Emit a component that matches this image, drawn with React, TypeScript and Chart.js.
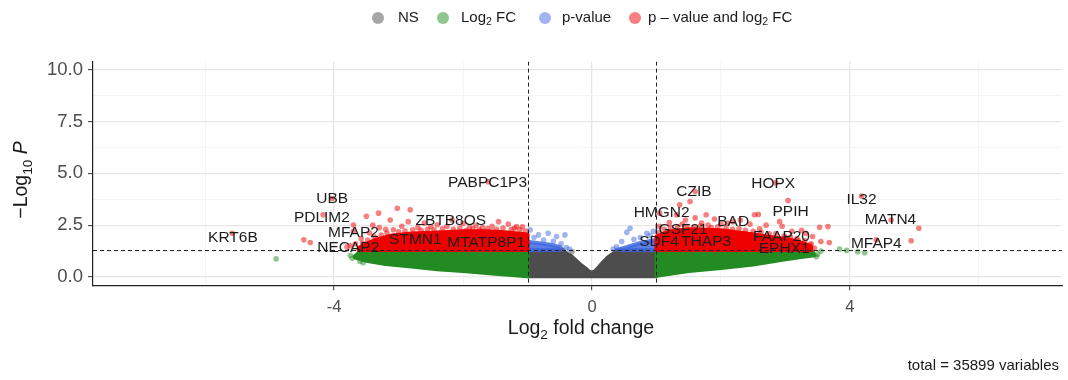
import React, { useEffect, useRef } from 'react';
import { Chart, registerables } from 'chart.js';

Chart.register(...registerables);

const FONT = '"Liberation Sans", Arial, Helvetica, sans-serif';

// Axis ranges: log2 fold change (x) and -log10 p (y)
const X_MIN = -7.74;
const X_MAX = 7.29;
const Y_MIN = -0.4;
const Y_MAX = 10.4;
const FC_CUTOFF = 1;
const P_CUTOFF = 1.301; // -log10(0.05)
const TOTAL_VARIABLES = 35899;

type Pt = [number, number];

// Outlines of the dense point clouds (each closed shape listed around its edge)
const nsCloud: Pt[] = [
  [-1.0, 1.3], [-0.7, 1.3], [-0.5, 1.28], [-0.4, 1.15], [-0.32, 1.0], [-0.25, 0.8],
  [-0.18, 0.6], [-0.1, 0.4], [-0.04, 0.25], [0.0, 0.2], [0.05, 0.28], [0.1, 0.45],
  [0.17, 0.7], [0.25, 0.95], [0.33, 1.12], [0.42, 1.28], [0.6, 1.3], [1.0, 1.3],
  [1.0, 0.03], [-1.0, 0.03],
];
const fcCloudLeft: Pt[] = [
  [-3.68, 1.0], [-3.6, 1.2], [-3.45, 1.3], [-1.0, 1.3], [-1.0, 0.03], [-1.5, 0.15],
  [-2.0, 0.28], [-2.4, 0.37], [-2.8, 0.5], [-3.2, 0.62], [-3.5, 0.78], [-3.68, 0.95],
];
const fcCloudRight: Pt[] = [
  [1.0, 1.3], [3.3, 1.3], [3.42, 1.22], [3.45, 1.05], [3.3, 0.98], [3.0, 0.85],
  [2.5, 0.6], [2.0, 0.43], [1.5, 0.28], [1.0, 0.05],
];
const pCloudLeft: Pt[] = [
  [-1.0, 1.3], [-0.45, 1.3], [-0.5, 1.45], [-0.65, 1.55], [-0.8, 1.62], [-1.0, 1.7],
];
const pCloudRight: Pt[] = [
  [0.38, 1.3], [1.0, 1.3], [1.0, 1.8], [0.85, 1.7], [0.7, 1.6], [0.55, 1.45],
];
const bothCloudLeft: Pt[] = [
  [-3.62, 1.3], [-1.0, 1.3], [-1.0, 2.05], [-1.3, 2.15], [-1.6, 2.2], [-2.0, 2.2],
  [-2.4, 2.15], [-2.8, 2.1], [-3.1, 2.0], [-3.35, 1.8], [-3.5, 1.6], [-3.62, 1.4],
];
const bothCloudRight: Pt[] = [
  [1.0, 1.3], [3.4, 1.3], [3.4, 1.45], [3.3, 1.6], [3.1, 1.78], [2.8, 1.92],
  [2.4, 2.1], [2.0, 2.25], [1.5, 2.3], [1.2, 2.2], [1.0, 1.95],
];

// Individual variables outside the dense clouds
const nsPoints: Pt[] = [[-0.31, 1.22], [0.38, 1.2], [-0.45, 1.25]];
const fcPoints: Pt[] = [
  [-4.9, 0.87], [3.84, 1.35], [4.12, 1.22], [4.23, 1.17], [3.95, 1.28], [-3.75, 1.05],
  [-3.72, 0.9], [3.5, 1.1], [3.55, 1.25], [-3.6, 0.75], [3.48, 0.98], [-3.55, 0.68],
];
const pPoints: Pt[] = [
  [-0.96, 2.27], [-0.83, 2.03], [-0.68, 2.11], [-0.55, 1.95], [-0.42, 2.03], [-0.9, 1.9],
  [-0.75, 1.78], [-0.6, 1.72], [-0.48, 1.6], [-0.4, 1.42], [-0.35, 1.35],
  [0.59, 2.35], [0.54, 2.15], [0.46, 1.71], [0.85, 2.11], [0.9, 2.0], [0.75, 1.9],
  [0.38, 1.46], [0.65, 1.82], [0.95, 2.2], [0.33, 1.35],
];
const bothPointsLeft: Pt[] = [
  [-5.58, 2.11], [-4.03, 3.79], [-4.17, 3.0], [-3.7, 2.2], [-3.8, 1.45], [-4.47, 1.79],
  [-4.37, 1.66], [-3.5, 2.93], [-3.31, 3.08], [-3.02, 3.32], [-2.82, 3.24], [-3.13, 2.75],
  [-2.85, 2.67], [-3.7, 2.51], [-1.61, 4.6], [-2.17, 2.75], [-1.45, 2.67], [-1.17, 2.43],
  [-2.6, 2.6], [-2.4, 2.52], [-2.0, 2.58], [-1.8, 2.48], [-1.3, 2.55], [-1.08, 2.42],
  [-2.95, 2.45], [-2.5, 2.42], [-1.9, 2.4], [-1.55, 2.45], [-3.3, 2.38], [-3.45, 2.12],
  [-3.58, 1.85], [-3.67, 1.6], [-3.75, 1.5], [-2.7, 2.38], [-2.25, 2.44], [-1.7, 2.38],
  [-1.2, 2.35], [-3.2, 2.3], [-3.4, 2.5],
  [-1.03, 2.22], [-1.12, 2.28], [-1.25, 2.3], [-1.38, 2.36], [-1.48, 2.3], [-1.62, 2.34],
  [-1.75, 2.28], [-1.85, 2.33], [-2.05, 2.36], [-2.15, 2.3], [-2.32, 2.32], [-2.45, 2.28],
  [-2.55, 2.3], [-2.65, 2.25], [-2.78, 2.28], [-2.9, 2.22], [-3.0, 2.18], [-3.08, 2.28],
  [-3.18, 2.12], [-3.27, 2.02], [-3.38, 1.95], [-3.48, 1.78], [-3.56, 1.62], [-1.95, 2.25],
];
const bothPointsRight: Pt[] = [
  [1.6, 4.12], [2.85, 4.55], [1.05, 3.08], [2.19, 2.67], [3.04, 3.69], [4.18, 3.91],
  [4.64, 2.75], [4.41, 1.79], [5.07, 2.35], [4.95, 1.75], [3.66, 2.43], [3.53, 2.4],
  [3.68, 1.66], [3.55, 1.71], [3.32, 2.11], [3.42, 1.95], [3.25, 2.25], [2.91, 2.67],
  [2.95, 2.45], [2.52, 3.0], [2.58, 3.02], [1.52, 3.64], [1.36, 3.48], [1.31, 3.0],
  [1.77, 3.0], [1.6, 2.85], [1.45, 2.75], [1.9, 2.8], [1.2, 2.62], [2.3, 2.75],
  [2.7, 2.5], [2.1, 2.6], [2.6, 2.32], [1.7, 2.6], [1.05, 2.45], [2.45, 2.55],
  [3.1, 2.2], [3.0, 1.9], [3.4, 1.6], [1.4, 2.55], [2.0, 2.55], [1.8, 2.5], [3.2, 1.75],
  [1.03, 2.12], [1.12, 2.3], [1.22, 2.38], [1.33, 2.42], [1.47, 2.44], [1.58, 2.4],
  [1.68, 2.46], [1.85, 2.38], [1.95, 2.42], [2.08, 2.36], [2.18, 2.3], [2.28, 2.34],
  [2.38, 2.25], [2.5, 2.2], [2.62, 2.15], [2.75, 2.08], [2.85, 2.1], [2.98, 1.98],
  [3.08, 1.92], [3.18, 1.85], [3.3, 1.75], [3.38, 1.55], [3.45, 1.4],
];

// Gene labels and where their text sits (log2 FC, -log10 p)
const geneNames = [
  'KRT6B', 'UBB', 'PDLIM2', 'MFAP2', 'NECAP2', 'PABPC1P3', 'ZBTB8OS', 'STMN1', 'MTATP8P1',
  'CZIB', 'HOPX', 'HMGN2', 'IGSF21', 'BAD', 'PPIH', 'IL32', 'MATN4', 'FAAP20', 'SDF4',
  'THAP3', 'EPHX1', 'MFAP4',
];
const geneLabelX = [
  -5.57, -4.03, -4.19, -3.7, -3.78, -1.62, -2.19, -2.74, -1.64,
  1.58, 2.81, 1.08, 1.38, 2.19, 3.08, 4.18, 4.63, 2.94, 1.04,
  1.77, 2.98, 4.41,
];
const geneLabelY = [
  1.9, 3.8, 2.88, 2.14, 1.42, 4.56, 2.72, 1.79, 1.66,
  4.12, 4.49, 3.08, 2.27, 2.67, 3.16, 3.75, 2.75, 1.95, 1.71,
  1.71, 1.37, 1.6,
];

const Y_TICKS_MAJOR = [0, 2.5, 5, 7.5, 10];
const X_TICKS_MAJOR = [-4, 0, 4];

// Category colours
const COL_NS = '77,77,77';
const COL_FC = '34,139,34';
const COL_P = '65,105,225';
const COL_BOTH = '238,0,0';

const legendItems = [
  { color: COL_NS, parts: [{ t: 'NS' }] },
  { color: COL_FC, parts: [{ t: 'Log' }, { t: '2', sub: true }, { t: ' FC' }] },
  { color: COL_P, parts: [{ t: 'p-value' }] },
  { color: COL_BOTH, parts: [{ t: 'p \u2013 value and log' }, { t: '2', sub: true }, { t: ' FC' }] },
];

type Part = { t: string; sub?: boolean; italic?: boolean };

function partFont(p: Part, size: number) {
  const s = p.sub ? size * 0.7 : size;
  return `${p.italic ? 'italic ' : ''}${s}px ${FONT}`;
}

function richWidth(ctx: CanvasRenderingContext2D, parts: Part[], size: number) {
  let w = 0;
  for (const p of parts) {
    ctx.font = partFont(p, size);
    w += ctx.measureText(p.t).width;
  }
  return w;
}

function drawRich(
  ctx: CanvasRenderingContext2D,
  parts: Part[],
  x: number,
  y: number,
  size: number,
  align: 'left' | 'center' | 'right',
) {
  const w = richWidth(ctx, parts, size);
  let cx = align === 'left' ? x : align === 'center' ? x - w / 2 : x - w;
  ctx.textAlign = 'left';
  ctx.textBaseline = 'middle';
  for (const p of parts) {
    ctx.font = partFont(p, size);
    ctx.fillText(p.t, cx, p.sub ? y + size * 0.3 : y);
    cx += ctx.measureText(p.t).width;
  }
}

const toXY = (pts: Pt[]) => pts.map(([x, y]) => ({ x, y }));

function cloud(pts: Pt[], rgb: string, alpha: number, order: number) {
  const data = toXY([...pts, pts[0]]);
  return {
    type: 'line' as const,
    data,
    showLine: true,
    fill: 'shape',
    backgroundColor: `rgba(${rgb},${alpha})`,
    borderColor: `rgba(${rgb},${alpha})`,
    borderWidth: 4,
    borderJoinStyle: 'round' as const,
    borderCapStyle: 'round' as const,
    pointRadius: 0,
    tension: 0,
    order,
  };
}

function points(pts: Pt[], rgb: string, order: number) {
  return {
    type: 'scatter' as const,
    data: toXY(pts),
    backgroundColor: `rgba(${rgb},0.5)`,
    borderWidth: 0,
    pointRadius: 2.8,
    order,
  };
}

const overlayPlugin = {
  id: 'volcanoOverlay',
  afterDatasetsDraw(chart: any) {
    const { ctx, chartArea: a, scales } = chart;
    const xs = scales.x;
    const ys = scales.y;
    ctx.save();
    ctx.beginPath();
    ctx.rect(a.left, a.top, a.right - a.left, a.bottom - a.top);
    ctx.clip();
    ctx.setLineDash([4, 3]);
    ctx.strokeStyle = '#222';
    ctx.lineWidth = 1;
    for (const v of [-FC_CUTOFF, FC_CUTOFF]) {
      const px = Math.round(xs.getPixelForValue(v)) + 0.5;
      ctx.beginPath();
      ctx.moveTo(px, a.top);
      ctx.lineTo(px, a.bottom);
      ctx.stroke();
    }
    const py = Math.round(ys.getPixelForValue(P_CUTOFF)) + 0.5;
    ctx.beginPath();
    ctx.moveTo(a.left, py);
    ctx.lineTo(a.right, py);
    ctx.stroke();
    ctx.setLineDash([]);

    ctx.fillStyle = '#1c1c1c';
    ctx.font = `15.5px ${FONT}`;
    ctx.textAlign = 'center';
    ctx.textBaseline = 'middle';
    geneNames.forEach((name, i) => {
      ctx.fillText(name, xs.getPixelForValue(geneLabelX[i]), ys.getPixelForValue(geneLabelY[i]));
    });
    ctx.restore();
  },
  afterDraw(chart: any) {
    const { ctx } = chart;
    ctx.save();
    // legend
    const legendSize = 15;
    const circleX = [378, 443, 545, 635];
    const textX = [398, 461, 562, 648];
    legendItems.forEach((item, i) => {
      ctx.fillStyle = `rgba(${item.color},0.5)`;
      ctx.beginPath();
      ctx.arc(circleX[i], 18, 6, 0, Math.PI * 2);
      ctx.fill();
      ctx.fillStyle = '#1a1a1a';
      drawRich(ctx, item.parts, textX[i], 18, legendSize, 'left');
    });

    // axis titles
    ctx.fillStyle = '#1a1a1a';
    drawRich(ctx, [{ t: 'Log' }, { t: '2', sub: true }, { t: ' fold change' }], 581, 329, 19.5, 'center');
    ctx.save();
    ctx.translate(22, 180);
    ctx.rotate(-Math.PI / 2);
    drawRich(ctx, [{ t: '\u2212Log' }, { t: '10', sub: true }, { t: ' ' }, { t: 'P', italic: true }], 0, 0, 19.5, 'center');
    ctx.restore();

    // caption
    ctx.font = `15px ${FONT}`;
    ctx.textAlign = 'right';
    ctx.textBaseline = 'middle';
    ctx.fillText(`total = ${TOTAL_VARIABLES} variables`, 1059, 366);
    ctx.restore();
  },
};

export default function App() {
  const canvasRef = useRef<HTMLCanvasElement | null>(null);

  useEffect(() => {
    document.body.style.margin = '0';
    const canvas = canvasRef.current;
    if (!canvas) return;

    const majorX = (c: any) => X_TICKS_MAJOR.includes(c.tick?.value);
    const majorY = (c: any) => Y_TICKS_MAJOR.includes(c.tick?.value);

    const chart = new Chart(canvas, {
      type: 'scatter',
      data: {
        datasets: [
          cloud(nsCloud, COL_NS, 1, 20),
          cloud(fcCloudLeft, COL_FC, 1, 19),
          cloud(fcCloudRight, COL_FC, 1, 19),
          cloud(pCloudLeft, COL_P, 0.85, 18),
          cloud(pCloudRight, COL_P, 0.85, 18),
          cloud(bothCloudLeft, COL_BOTH, 1, 17),
          cloud(bothCloudRight, COL_BOTH, 1, 17),
          points(nsPoints, COL_NS, 5),
          points(fcPoints, COL_FC, 4),
          points(pPoints, COL_P, 3),
          points(bothPointsLeft, COL_BOTH, 2),
          points(bothPointsRight, COL_BOTH, 2),
        ] as any,
      },
      options: {
        animation: false,
        responsive: true,
        maintainAspectRatio: false,
        layout: { padding: { top: 61.6, right: 6, bottom: 0, left: 0 } },
        plugins: {
          legend: { display: false },
          tooltip: { enabled: false },
        },
        events: [],
        scales: {
          x: {
            type: 'linear',
            min: X_MIN,
            max: X_MAX,
            afterFit: (scale: any) => {
              scale.height = 380 - 285.2;
            },
            ticks: {
              stepSize: 2,
              includeBounds: false,
              autoSkip: false,
              maxRotation: 0,
              padding: 7,
              color: '#4d4d4d',
              font: { family: FONT, size: 16.5 },
              callback: (v: any) => (X_TICKS_MAJOR.includes(Number(v)) ? String(v) : ''),
            },
            grid: {
              drawTicks: true,
              tickLength: 5,
              color: (c: any) => (majorX(c) ? '#e6e6e6' : '#f1f1f1'),
              lineWidth: (c: any) => (majorX(c) ? 1.3 : 0.8),
              tickColor: (c: any) => (majorX(c) ? '#333' : 'rgba(0,0,0,0)'),
              tickWidth: 1,
            },
            border: { display: true, color: '#222', width: 1.2 },
          },
          y: {
            type: 'linear',
            min: Y_MIN,
            max: Y_MAX,
            afterFit: (scale: any) => {
              scale.width = 93;
            },
            ticks: {
              stepSize: 1.25,
              includeBounds: false,
              autoSkip: false,
              padding: 5,
              color: '#4d4d4d',
              font: { family: FONT, size: 18.5 },
              callback: (v: any) => (Y_TICKS_MAJOR.includes(Number(v)) ? Number(v).toFixed(1) : ''),
            },
            grid: {
              drawTicks: true,
              tickLength: 5,
              color: (c: any) => (majorY(c) ? '#e6e6e6' : '#f1f1f1'),
              lineWidth: (c: any) => (majorY(c) ? 1.3 : 0.8),
              tickColor: (c: any) => (majorY(c) ? '#333' : 'rgba(0,0,0,0)'),
              tickWidth: 1,
            },
            border: { display: true, color: '#222', width: 1.2 },
          },
        },
      } as any,
      plugins: [overlayPlugin],
    });

    return () => chart.destroy();
  }, []);

  return (
    <div style={{ position: 'relative', width: 1068, height: 380 }}>
      <canvas ref={canvasRef} />
    </div>
  );
}
